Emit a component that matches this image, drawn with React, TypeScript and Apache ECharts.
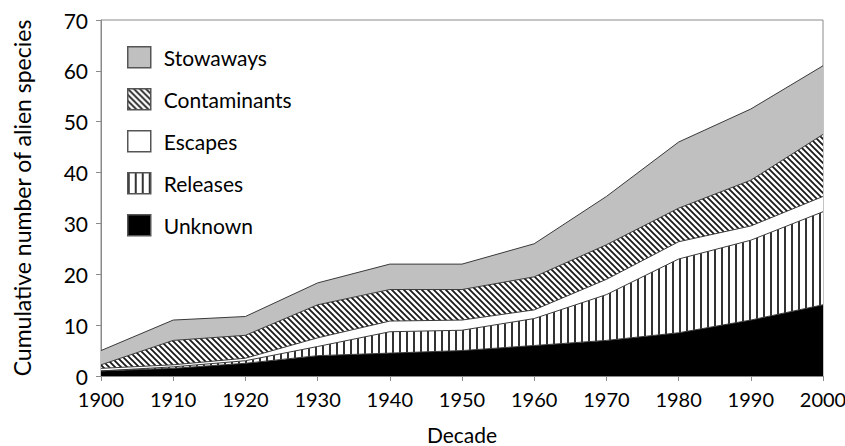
import React, { useEffect, useRef } from "react";
import * as echarts from "echarts";

const decades = ["1900", "1910", "1920", "1930", "1940", "1950", "1960", "1970", "1980", "1990", "2000"];
const unknownVals = [1, 1.5, 2.5, 4, 4.5, 5, 6, 7, 8.5, 11, 14];
const releasesVals = [0, 0.3, 0.5, 1.8, 4.2, 4, 5.3, 9, 14.5, 15.7, 18.3];
const escapesVals = [0.5, 0.4, 0.5, 1.7, 2.1, 2, 1.7, 3, 3.4, 2.8, 3];
const contaminantsVals = [0.7, 4.8, 4.5, 6.5, 6.2, 6, 6.5, 6.8, 6.6, 9, 12.2];
const stowawaysVals = [2.8, 4, 3.7, 4.3, 5, 5, 6.5, 9.5, 13, 14, 13.5];

const FONT = "Lato";

function makeDiagonal(): HTMLCanvasElement {
  const s = 6;
  const c = document.createElement("canvas");
  c.width = s;
  c.height = s;
  const ctx = c.getContext("2d")!;
  ctx.fillStyle = "#ffffff";
  ctx.fillRect(0, 0, s, s);
  ctx.strokeStyle = "#1a1a1a";
  ctx.lineWidth = 1.8;
  ctx.beginPath();
  ctx.moveTo(-1, -1);
  ctx.lineTo(s + 1, s + 1);
  ctx.moveTo(-1, s - 1);
  ctx.lineTo(1, s + 1);
  ctx.moveTo(s - 1, -1);
  ctx.lineTo(s + 1, 1);
  ctx.stroke();
  return c;
}

function makeVertical(): HTMLCanvasElement {
  const w = 7;
  const h = 4;
  const c = document.createElement("canvas");
  c.width = w;
  c.height = h;
  const ctx = c.getContext("2d")!;
  ctx.fillStyle = "#ffffff";
  ctx.fillRect(0, 0, w, h);
  ctx.fillStyle = "#333333";
  ctx.fillRect(0, 0, 2, h);
  return c;
}

export default function App() {
  const ref = useRef<HTMLDivElement>(null);

  useEffect(() => {
    if (!ref.current) return;
    const chart = echarts.init(ref.current, undefined, { renderer: "svg" });

    const diag = makeDiagonal();
    const vert = makeVertical();
    const diagPattern: any = { image: diag, repeat: "repeat", imageWidth: 6, imageHeight: 6 };
    const vertPattern: any = { image: vert, repeat: "repeat", imageWidth: 7, imageHeight: 4 };

    const fills: Record<string, any> = {
      Unknown: "#000000",
      Releases: vertPattern,
      Escapes: "#ffffff",
      Contaminants: diagPattern,
      Stowaways: "#c0c0c0",
    };

    const mk = (name: string, data: number[]) => ({
      name,
      type: "line",
      stack: "total",
      data,
      symbol: "none",
      showSymbol: false,
      lineStyle: { color: "#3a3a3a", width: 1 },
      itemStyle: { color: fills[name], borderColor: "#555", borderWidth: 1.5 },
      areaStyle: { color: fills[name], opacity: 1 },
      emphasis: { disabled: true },
      z: 2,
    });

    const legendOrder = ["Stowaways", "Contaminants", "Escapes", "Releases", "Unknown"];

    chart.setOption({
      animation: false,
      grid: {
        left: 101,
        right: 22,
        top: 20,
        bottom: 70,
        outerBoundsMode: "none",
        containLabel: false,
        show: true,
        borderColor: "#8a8a8a",
        borderWidth: 1,
        backgroundColor: "transparent",
      },
      legend: {
        orient: "vertical",
        left: 127,
        top: 46,
        itemWidth: 23,
        itemHeight: 21,
        itemGap: 19.5,
        padding: 0,
        icon: "rect",
        selectedMode: false,
        textStyle: { fontFamily: FONT, fontSize: 21, color: "#000", padding: [0, 0, 0, 8] },
        data: legendOrder.map((n) => ({
          name: n,
          icon: "rect",
          itemStyle: { color: fills[n], borderColor: "#555", borderWidth: 1.5 },
        })),
      },
      xAxis: {
        type: "category",
        data: decades,
        boundaryGap: false,
        name: "Decade",
        nameLocation: "middle",
        nameGap: 48,
        nameTextStyle: { fontFamily: FONT, fontSize: 21, color: "#000" },
        axisLine: { lineStyle: { color: "#8a8a8a", width: 1 } },
        axisTick: { show: true, length: 5, alignWithLabel: true, lineStyle: { color: "#8a8a8a" } },
        axisLabel: { fontFamily: FONT, fontSize: 20, color: "#000", margin: 13 },
        splitLine: { show: false },
      },
      yAxis: {
        type: "value",
        min: 0,
        max: 70,
        interval: 10,
        name: "Cumulative number of alien species",
        nameLocation: "middle",
        nameGap: 68,
        nameTextStyle: { fontFamily: FONT, fontSize: 23, color: "#000" },
        axisLine: { show: true, lineStyle: { color: "#8a8a8a", width: 1 } },
        axisTick: { show: true, length: 5, lineStyle: { color: "#8a8a8a" } },
        axisLabel: { fontFamily: FONT, fontSize: 21, color: "#000", margin: 13 },
        splitLine: { show: false },
      },
      series: [
        mk("Unknown", unknownVals),
        mk("Releases", releasesVals),
        mk("Escapes", escapesVals),
        mk("Contaminants", contaminantsVals),
        mk("Stowaways", stowawaysVals),
      ],
    });

    return () => chart.dispose();
  }, []);

  return (
    <div
      ref={ref}
      style={{ position: "fixed", left: 0, top: 0, width: 845, height: 446, background: "#fff" }}
    />
  );
}
